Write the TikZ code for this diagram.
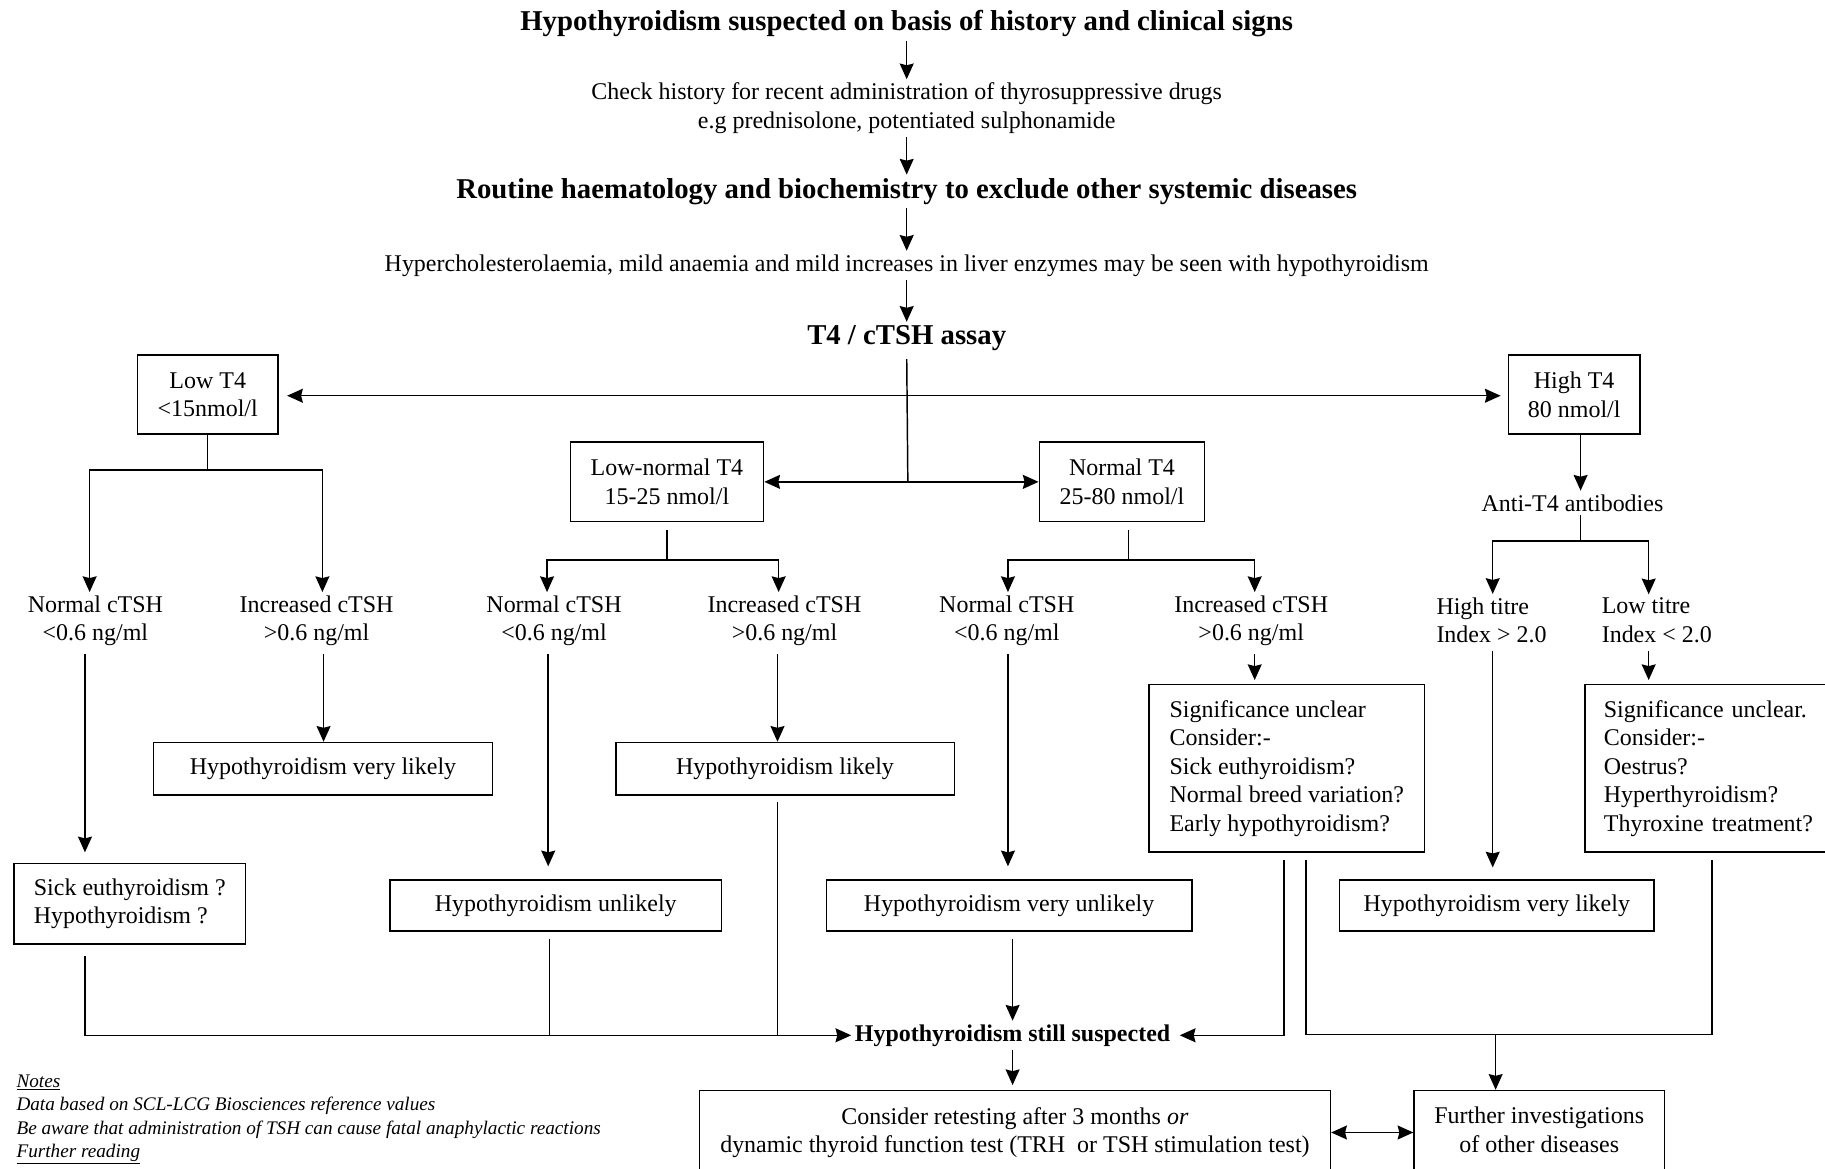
\documentclass[tikz,border=0pt]{standalone}
\usepackage{fontspec}
\setmainfont{Liberation Serif}
\usetikzlibrary{arrows.meta,calc}
\begin{document}
\begin{tikzpicture}[x=1pt,y=-1pt,
  every node/.style={font=\fontsize{20.6}{24.5}\selectfont, inner sep=3pt},
  box/.style={draw, line width=1.4pt, align=center, inner sep=0pt},
  lbl/.style={align=center, inner sep=3pt},
  head/.style={font=\fontsize{24.7}{29}\selectfont\bfseries},
  conn/.style={line width=1.25pt},
  tip/.tip={Stealth[length=13.5pt,width=12pt,inset=1.5pt]},
  arr/.style={conn, -tip},
  darr/.style={conn, tip-tip},
]
\useasboundingbox (0,0) rectangle (1568,1004);

% top sequence
\node[head] (t1) at (779,20.5) {Hypothyroidism suspected on basis of history and clinical signs};
\node[lbl] (check) at (779,93) {Check history for recent administration of thyrosuppressive drugs\\e.g prednisolone, potentiated sulphonamide};
\node[head] (routine) at (779,164.5) {Routine haematology and biochemistry to exclude other systemic diseases};
\node (hyper) at (779,228) {Hypercholesterolaemia, mild anaemia and mild increases in liver enzymes may be seen with hypothyroidism};
\node[head] (assay) at (779,290.5) {T4 / cTSH assay};

\draw[arr] (t1) -- (check);
\draw[arr] (check) -- (routine);
\draw[arr] (routine) -- (hyper);
\draw[arr] (hyper) -- (assay);

% T4 boxes
\node[box, minimum width=121, minimum height=68] (lowT4) at (178.5,339) {Low T4\\<15nmol/l};
\node[box, minimum width=113, minimum height=68] (highT4) at (1352.5,339) {High T4\\80 nmol/l};
\node[box, minimum width=166, minimum height=68] (lownT4) at (573,414) {Low-normal T4\\15-25 nmol/l};
\node[box, minimum width=142, minimum height=68] (normT4) at (964,414) {Normal T4\\25-80 nmol/l};

% labels
\node[lbl] (l1) at (82,533.5) {Normal cTSH\\<0.6 ng/ml};
\node[lbl] (l2) at (272,533.5) {Increased cTSH\\>0.6 ng/ml};
\node[lbl] (l3) at (476,533.5) {Normal cTSH\\<0.6 ng/ml};
\node[lbl] (l4) at (674,533.5) {Increased cTSH\\>0.6 ng/ml};
\node[lbl] (l5) at (865,533.5) {Normal cTSH\\<0.6 ng/ml};
\node[lbl] (l6) at (1075,533.5) {Increased cTSH\\>0.6 ng/ml};
\node[lbl, anchor=west, align=left] (l7) at (1231,533) {High titre\\Index > 2.0};
\node[lbl, anchor=west, align=left] (l8) at (1373,533) {Low titre\\Index < 2.0};
\node (anti) at (1351,432) {Anti-T4 antibodies};

% outcome boxes
\node[box, minimum width=199, minimum height=69, align=left] (sick) at (111.5,776.5) {Sick euthyroidism ?\\Hypothyroidism ?};
\node[box, minimum width=291, minimum height=45] (vl1) at (277.5,660.5) {Hypothyroidism very likely};
\node[box, minimum width=285, minimum height=44] (unl) at (477.5,778) {Hypothyroidism unlikely};
\node[box, minimum width=291, minimum height=45] (lik) at (674.5,660.5) {Hypothyroidism likely};
\node[box, minimum width=314, minimum height=44] (vunl) at (867,778) {Hypothyroidism very unlikely};
\node[box, minimum width=237, minimum height=144, align=left] (sig1) at (1105.5,660) {Significance unclear\\Consider:-\\Sick euthyroidism?\\Normal breed variation?\\Early hypothyroidism?\vphantom{y}};
\node[box, minimum width=270, minimum height=44] (vl2) at (1286,778) {Hypothyroidism very likely};
\node[box, minimum width=217, minimum height=144, text width=185, align=left] (sig2) at (1470.5,660) {Significance unclear.\\Consider:-\\Oestrus?\\Hyperthyroidism?\\Thyroxine treatment?\vphantom{y}};

\node[font=\fontsize{20.6}{24.5}\selectfont\bfseries, inner sep=3pt] (still) at (870,889.5) {Hypothyroidism still suspected};
\node[box, minimum width=542, minimum height=72] (cons) at (872,973) {Consider retesting after 3 months \textit{or}\\dynamic thyroid function test (TRH\ \ or TSH stimulation test)};
\node[box, minimum width=215, minimum height=72] (fur) at (1322.5,973) {Further investigations\\of other diseases\vphantom{(y}};

\node[anchor=north west, align=left, inner sep=0pt, font=\fontsize{16.5}{20.3}\selectfont\itshape] (notes) at (14,923) {\underline{Notes}\\Data based on SCL-LCG Biosciences reference values\\Be aware that administration of TSH can cause fatal anaphylactic reactions\\\underline{Further reading}};

% coordinates
\coordinate (jt) at (780,340);
\coordinate (jc) at (780,414);
\coordinate (jl) at (178.5,404);
\coordinate (jm) at (573,481);
\coordinate (jn) at (969.5,481);
\coordinate (ja) at (1358,465);
\coordinate (jb) at (1285,889);
\coordinate (xa) at (77,0);
\coordinate (xb) at (277,0);
\coordinate (xc) at (73,0);
\coordinate (xd) at (278,0);
\coordinate (xe) at (470,0);
\coordinate (xf) at (669,0);
\coordinate (xg) at (471,0);
\coordinate (xh) at (668,0);
\coordinate (xi) at (866,0);
\coordinate (xj) at (1078,0);
\coordinate (xk) at (1358,0);
\coordinate (xl) at (1282.5,0);
\coordinate (xm) at (1416.5,0);
\coordinate (xn) at (472,0);
\coordinate (xo) at (668,0);
\coordinate (xp) at (870,0);
\coordinate (xq) at (1103,0);
\coordinate (xr) at (1122,0);
\coordinate (xs) at (1471,0);

% T4 distribution
\draw[conn, shorten <=4pt] (assay.south) -- (jc);
\draw[arr, shorten >=7pt] (jt) -- (lowT4.east |- jt);
\draw[arr, shorten >=6pt] (jt) -- (highT4.west |- jt);
\draw[arr] (jc) -- (lownT4.east |- jc);
\draw[arr] (jc) -- (normT4.west |- jc);

% low T4 branch
\draw[conn] (lowT4.south) -- (jl);
\draw[arr] (jl) -| (l1.north -| xa);
\draw[arr] (jl) -| (l2.north -| xb);
\draw[arr, shorten <=4pt, shorten >=9pt] (l1.south -| xc) -- (sick.north -| xc);
\draw[arr, shorten <=4pt] (l2.south -| xd) -- (vl1.north -| xd);

% low-normal branch
\draw[conn, shorten <=7pt] (lownT4.south -| jm) -- (jm);
\draw[arr] (jm) -| (l3.north -| xe);
\draw[arr] (jm) -| (l4.north -| xf);
\draw[arr, shorten <=4pt, shorten >=11pt] (l3.south -| xg) -- (unl.north -| xg);
\draw[arr, shorten <=4pt] (l4.south -| xh) -- (lik.north -| xh);

% normal branch
\draw[conn, shorten <=7pt] (normT4.south -| jn) -- (jn);
\draw[arr] (jn) -| (l5.north -| xi);
\draw[arr] (jn) -| (l6.north -| xj);
\draw[arr, shorten <=4pt, shorten >=11pt] (l5.south -| xi) -- (vunl.north -| xi);
\draw[arr, shorten <=4pt, shorten >=3pt] (l6.south -| xj) -- (sig1.north -| xj);

% high T4 branch
\draw[arr] (highT4.south -| xk) -- (anti.north -| xk);
\draw[conn] (anti.south -| ja) -- (ja);
\draw[arr] (ja) -| (l7.north -| xl);
\draw[arr] (ja) -| (l8.north -| xm);
\draw[arr, shorten <=4pt, shorten >=10pt] (l7.south -| xl) -- (vl2.north -| xl);
\draw[arr, shorten <=4pt, shorten >=3pt] (l8.south -| xm) -- (sig2.north -| xm);

% bottom merging
\draw[arr, shorten <=10pt] (sick.south -| xc) |- (still.west);
\draw[conn, shorten <=6pt] (unl.south -| xn) -- (still.west -| xn);
\draw[conn, shorten <=5pt] (lik.south -| xo) -- (still.west -| xo);
\draw[arr, shorten <=6pt] (vunl.south -| xp) -- (still.north -| xp);
\draw[arr, shorten <=6pt, shorten >=5pt] (sig1.south -| xq) |- (still.east);
\draw[conn, shorten <=6pt] (sig1.south -| xr) |- (jb);
\draw[conn, shorten <=6pt] (sig2.south -| xs) |- (jb);
\draw[arr] (jb) -- (fur.north -| jb);
\draw[arr, shorten >=4pt] (still.south -| xp) -- (cons.north -| xp);
\draw[darr] (cons.east) -- (fur.west);
\end{tikzpicture}
\end{document}
